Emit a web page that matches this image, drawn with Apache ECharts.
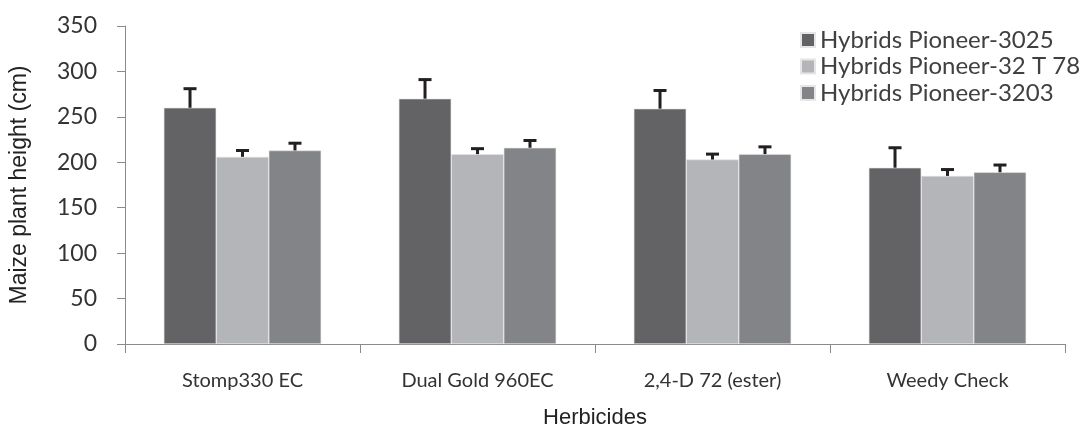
<!DOCTYPE html>
<html>
<head>
<meta charset="utf-8">
<script src="https://cdn.jsdelivr.net/npm/echarts@6/dist/echarts.min.js"></script>
<style>
  html, body { margin: 0; padding: 0; background: #fff; }
  #chart { width: 1092px; height: 434px; }
</style>
</head>
<body>
<div id="chart"></div>
<script>
var categories = ['Stomp330 EC', 'Dual Gold 960EC', '2,4-D 72 (ester)', 'Weedy Check']
var seriesNames = ['Hybrids Pioneer-3025', 'Hybrids Pioneer-32 T 78', 'Hybrids Pioneer-3203']
var p3025 = [260, 270, 259, 194]
var p32t78 = [206, 209, 203, 185]
var p3203 = [213, 216, 209, 189]
var err3025 = [21, 21, 20, 22]
var err32t78 = [7, 6, 6, 7]
var err3203 = [8, 8, 8, 8]

var values = [p3025, p32t78, p3203]
var errors = [err3025, err32t78, err3203]
var colors = ['#636365', '#b4b5b9', '#838488']
var catGap = 0.33

var chart = echarts.init(document.getElementById('chart'))

var series = []
values.forEach(function (vals, i) {
  series.push({
    name: seriesNames[i],
    type: 'bar',
    data: vals,
    barGap: '0%',
    barCategoryGap: (catGap * 100) + '%',
    itemStyle: { color: colors[i], borderColor: '#e6e6e6', borderWidth: 0.6 },
    z: 2
  })
})

// error bars (upward only) placed over each bar
values.forEach(function (vals, i) {
  series.push({
    type: 'custom',
    data: vals.map(function (v, k) { return [k, v, v + errors[i][k]] }),
    renderItem: function (params, api) {
      var catW = api.size([1, 0])[0]
      var barW = catW * (1 - catGap) / 3
      var base = api.coord([api.value(0), api.value(1)])
      var top = api.coord([api.value(0), api.value(2)])
      var x = base[0] + (i - 1) * barW
      var cap = 6.5
      var st = { stroke: '#231f20', lineWidth: 3 }
      return {
        type: 'group',
        children: [
          { type: 'line', shape: { x1: x, y1: base[1], x2: x, y2: top[1] }, style: st },
          { type: 'line', shape: { x1: x - cap, y1: top[1], x2: x + cap, y2: top[1] }, style: st }
        ]
      }
    },
    z: 3,
    silent: true
  })
})

var option = {
  animation: false,
  backgroundColor: '#fff',
  grid: { left: 125, right: 27, top: 26, bottom: 85.5 },
  legend: {
    data: seriesNames,
    orient: 'vertical',
    left: 795,
    top: 22,
    icon: 'rect',
    itemWidth: 14,
    itemHeight: 14,
    itemGap: 0.5,
    textStyle: { fontFamily: 'Lato', fontSize: 24, lineHeight: 26, color: '#404040' }
  },
  xAxis: {
    type: 'category',
    data: categories,
    name: 'Herbicides',
    nameLocation: 'middle',
    nameGap: 63,
    nameTextStyle: { fontFamily: 'Liberation Sans', fontSize: 22, color: '#222' },
    axisLine: { lineStyle: { color: '#8a8a8a', width: 1 } },
    axisTick: { show: true, length: 9, lineStyle: { color: '#8a8a8a' } },
    axisLabel: { margin: 27, fontFamily: 'Lato', fontSize: 20, color: '#333' }
  },
  yAxis: {
    type: 'value',
    min: 0,
    max: 350,
    interval: 50,
    name: 'Maize plant height (cm)',
    nameLocation: 'middle',
    nameGap: 94,
    nameTextStyle: { fontFamily: 'Liberation Sans', fontSize: 23, color: '#222' },
    axisLine: { show: true, lineStyle: { color: '#8a8a8a', width: 1 } },
    axisTick: { show: true, length: 8, lineStyle: { color: '#8a8a8a' } },
    axisLabel: { margin: 28, fontFamily: 'Lato', fontSize: 23, color: '#333' },
    splitLine: { show: false }
  },
  series: series
}

chart.setOption(option)
</script>
</body>
</html>
